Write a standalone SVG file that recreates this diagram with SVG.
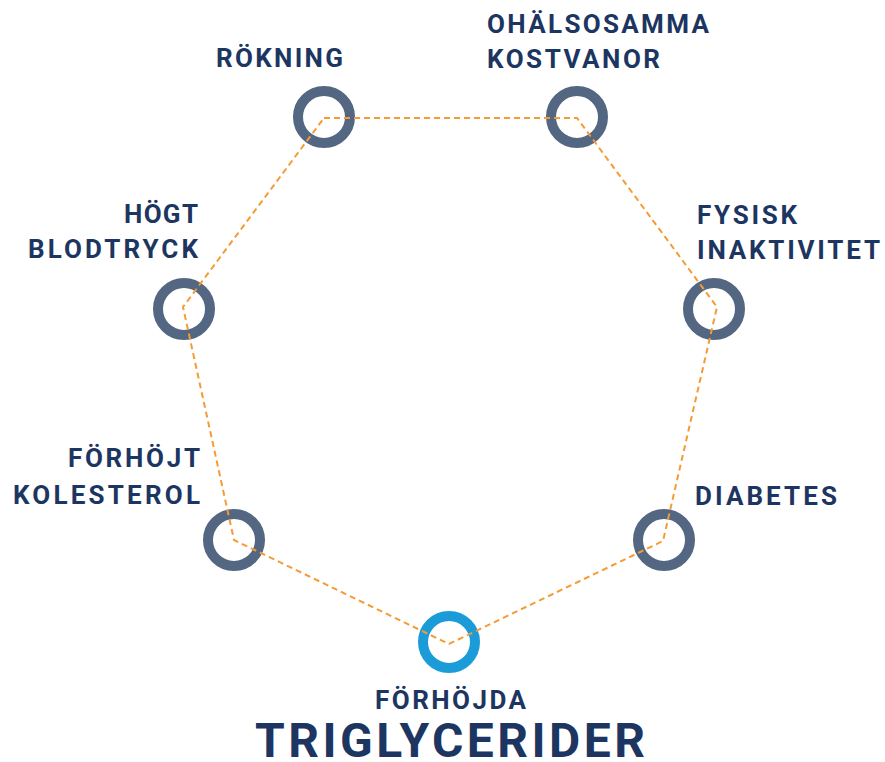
<svg xmlns="http://www.w3.org/2000/svg" width="885" height="762" viewBox="0 0 885 762">
<defs>
<style>
.ring{fill:none;stroke:#536682;stroke-width:10}
.ring.main{stroke:#1b9bd7}
.lbl{font-family:Roboto,"Liberation Sans",sans-serif;font-weight:700;font-size:26px;fill:#1c3561}
.big{font-size:48px}
.link{fill:none;stroke:#f59b35;stroke-width:2;stroke-dasharray:6 4}
</style>
<clipPath id="clipR"><rect x="0" y="0" width="745" height="762"/></clipPath>
</defs>
<rect width="885" height="762" fill="#ffffff"/>
<g id="nodes">
<g id="rokning">
<circle class="ring" cx="324" cy="117" r="26"/>
<text class="lbl" x="216" y="67" textLength="127" lengthAdjust="spacing">RÖKNING</text>
</g>
<g id="kostvanor">
<circle class="ring" cx="577" cy="117" r="26"/>
<text class="lbl" x="487" y="33" textLength="222" lengthAdjust="spacing">OHÄLSOSAMMA</text>
<text class="lbl" x="487" y="68" textLength="173" lengthAdjust="spacing">KOSTVANOR</text>
</g>
<g id="fysisk">
<circle class="ring" cx="714" cy="309" r="26" clip-path="url(#clipR)"/>
<text class="lbl" x="697" y="224" textLength="100" lengthAdjust="spacing">FYSISK</text>
<text class="lbl" x="697" y="259" textLength="183" lengthAdjust="spacing">INAKTIVITET</text>
</g>
<g id="diabetes">
<circle class="ring" cx="664" cy="540" r="26"/>
<text class="lbl" x="695" y="505" textLength="142" lengthAdjust="spacing">DIABETES</text>
</g>
<g id="triglycerider">
<circle class="ring main" cx="449" cy="642" r="26"/>
<text class="lbl" x="375" y="709" textLength="151" lengthAdjust="spacing">FÖRHÖJDA</text>
<text class="lbl big" x="255" y="757" textLength="390" lengthAdjust="spacing">TRIGLYCERIDER</text>
</g>
<g id="kolesterol">
<circle class="ring" cx="234" cy="540" r="26"/>
<text class="lbl" x="68" y="467" textLength="132" lengthAdjust="spacing">FÖRHÖJT</text>
<text class="lbl" x="13" y="504" textLength="187" lengthAdjust="spacing">KOLESTEROL</text>
</g>
<g id="blodtryck">
<circle class="ring" cx="184" cy="309" r="26"/>
<text class="lbl" x="124" y="223" textLength="74" lengthAdjust="spacing">HÖGT</text>
<text class="lbl" x="28" y="258" textLength="170" lengthAdjust="spacing">BLODTRYCK</text>
</g>
</g>
<g id="connectors">
<polygon class="link" points="324,118 577,118 717,307 663,541 449,644 234,540 183,307"/>
</g>
</svg>
